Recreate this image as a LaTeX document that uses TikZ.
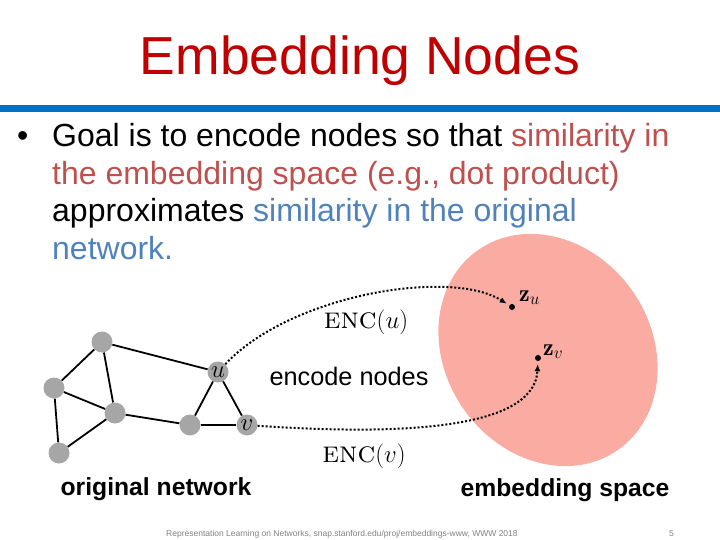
\documentclass[tikz,border=0pt]{standalone}
\usepackage{fontspec}
\newfontfamily\arial{Liberation Sans}
\usetikzlibrary{arrows.meta}
\definecolor{titlered}{RGB}{192,0,0}
\definecolor{barblue}{RGB}{0,112,192}
\definecolor{simred}{RGB}{192,80,77}
\definecolor{simblue}{RGB}{79,129,189}
\definecolor{spacefill}{RGB}{250,172,162}
\definecolor{nodegray}{RGB}{166,166,166}
\begin{document}
\begin{tikzpicture}[x=1pt,y=-1pt,
  vertex/.style={circle,fill=nodegray,minimum size=21pt,inner sep=0pt,font=\fontsize{24}{24}\selectfont},
  edge/.style={draw,line width=1.8pt},
  enc/.style={draw,dotted,line width=2pt,shorten >=3pt,-{Latex[length=7pt,width=6pt]}},
  dot/.style={circle,fill=black,minimum size=6pt,inner sep=0pt},
  bodytext/.style={anchor=base west,inner sep=0pt,font=\arial\fontsize{32}{32}\selectfont},
  caption/.style={anchor=base,inner sep=0pt,font=\arial\bfseries\fontsize{24.7}{24.7}\selectfont}]
\useasboundingbox (0,0) rectangle (720,540);
\node[anchor=base,inner sep=0pt,text=titlered,font=\arial\fontsize{53.5}{53.5}\selectfont] (title) at (360,75) {Embedding Nodes};
\fill[barblue] (0,105) rectangle (720,112);
\node[bodytext] (bullet) at (17,147) {\textbullet};
\node[bodytext] (goal1) at (52,147) {Goal is to encode nodes so that \textcolor{simred}{similarity in}};
\node[bodytext,text=simred] (goal2) at (52,185) {the embedding space (e.g., dot product)};
\node[bodytext] (goal3) at (52,222) {approximates \textcolor{simblue}{similarity in the original}};
\node[bodytext,text=simblue] (goal4) at (52,259) {network.};
% embedding space
\fill[spacefill,rotate around={-55:(548,350)}] (548,350) ellipse [x radius=122, y radius=103];
\node[dot] (zu) at (512,307) {};
\node[dot] (zv) at (538,358) {};
\node[anchor=base west,inner sep=0pt,font=\fontsize{24}{24}\selectfont] (zulabel) at (519,301) {$\mathbf{z}_u$};
\node[anchor=base west,inner sep=0pt,font=\fontsize{24}{24}\selectfont] (zvlabel) at (543,355) {$\mathbf{z}_v$};
% original network
\node[vertex] (n1) at (102,342) {};
\node[vertex] (n2) at (54,388) {};
\node[vertex] (n3) at (115,413) {};
\node[vertex] (n4) at (59,453) {};
\node[vertex] (n5) at (190,425) {};
\node[vertex] (u) at (218,372) {$u$};
\node[vertex] (v) at (247,425) {$v$};
\draw[edge] (n1) -- (n2);
\draw[edge] (n1) -- (n3);
\draw[edge] (n1) -- (u);
\draw[edge] (n2) -- (n3);
\draw[edge] (n2) -- (n4);
\draw[edge] (n4) -- (n3);
\draw[edge] (n3) -- (n5);
\draw[edge] (n5) -- (u);
\draw[edge] (n5) -- (v);
\draw[edge] (u) -- (v);
% encoder
\draw[enc] (u) .. controls (290,295) and (450,268) .. (zu);
\draw[enc] (v) .. controls (420,437) and (535,425) .. (zv);
\node[anchor=base,inner sep=0pt,font=\fontsize{30}{30}\selectfont] (encu) at (366,328) {\textsc{enc}$(u)$};
\node[anchor=base,inner sep=0pt,font=\fontsize{30}{30}\selectfont] (encv) at (364,462) {\textsc{enc}$(v)$};
\node[anchor=base,inner sep=0pt,font=\arial\fontsize{25.3}{25.3}\selectfont] (encode) at (349,385) {encode nodes};
\node[caption] (orig) at (156,495) {original network};
\node[caption] (space) at (565,496) {embedding space};
% footer
\node[anchor=base west,inner sep=0pt,text=gray,font=\arial\fontsize{8.5}{8.5}\selectfont] (cite) at (166,536) {Representation Learning on Networks, snap.stanford.edu/proj/embeddings-www, WWW 2018};
\node[anchor=base west,inner sep=0pt,text=gray,font=\arial\fontsize{8.5}{8.5}\selectfont] (page) at (669,536) {5};
\end{tikzpicture}
\end{document}
